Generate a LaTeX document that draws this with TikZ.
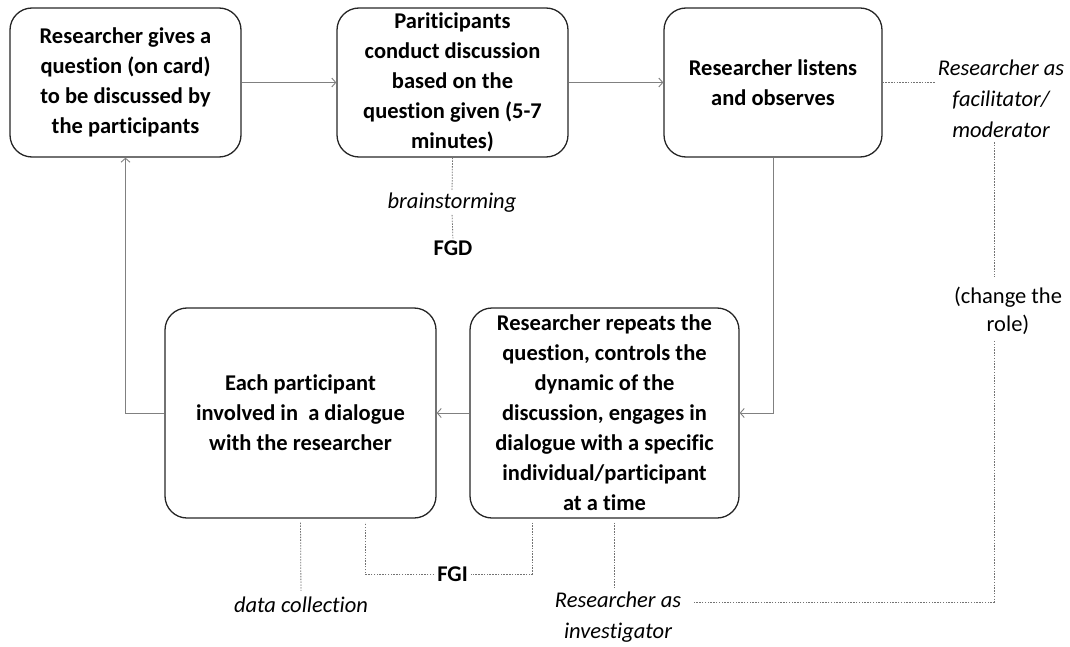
\documentclass[tikz,border=0pt]{standalone}
\usepackage{fontspec}
\setmainfont{Carlito}[Ligatures={NoCommon}]
\usetikzlibrary{arrows.meta,calc}
\begin{document}
\begin{tikzpicture}[x=1pt,y=-1pt,
  box/.style={draw=black!85, line width=1.3pt, rounded corners=22pt, align=center,
    font=\bfseries\fontsize{22.5}{30}\selectfont, inner sep=0pt},
  flow/.style={draw=black!50, line width=0.9pt, -{Straight Barb[length=4pt,width=9pt]}},
  dotline/.style={draw=black!55, line width=0.8pt, dash pattern=on 1.5pt off 1.3pt},
  note/.style={font=\itshape\fontsize{22.5}{31}\selectfont, align=center, inner sep=0pt},
  plain/.style={font=\fontsize{22.5}{28}\selectfont, align=center, inner sep=0pt},
  tag/.style={font=\bfseries\fontsize{22.5}{30}\selectfont, inner sep=0pt},
]
\useasboundingbox (0,0) rectangle (1070,647);

% boxes
\node[box, minimum width=231pt, minimum height=149pt] (b1) at (125.5,82.5)
  {Researcher gives a\\question (on card)\\to be discussed by\\the participants};
\node[box, minimum width=231pt, minimum height=149pt] (b2) at (452.5,82.5)
  {Pariticipants\\conduct discussion\\based on the\\question given (5-7\\minutes)};
\node[box, minimum width=218pt, minimum height=149pt] (b3) at (773,82.5)
  {Researcher listens\\and observes};
\node[box, minimum width=269pt, minimum height=210pt] (b4) at (604.5,413)
  {Researcher repeats the\\question, controls the\\dynamic of the\\discussion, engages in\\dialogue with a specific\\individual/participant\\at a time};
\node[box, minimum width=271pt, minimum height=210pt] (b5) at (300.5,413)
  {Each participant\\involved in\ \ a dialogue\\with the researcher};

% annotations
\node[note] (brain) at (452,203) {brainstorming};
\node[tag] (fgd) at (453,248) {FGD};
\node[note] (rf) at (1001,99) {Researcher as\\facilitator/\\moderator};
\node[plain] (change) at (1008,311) {(change the\\role)};
\node[note] (inv) at (618,617.5) {Researcher as\\investigator};
\node[note] (dc) at (301,605) {data collection};
\node[tag] (fgi) at (452.5,574) {FGI};

\coordinate (rolex) at (994,0);
\coordinate (fgix) at (532,0);
\coordinate (fgilx) at (365,0);
\coordinate (invx) at (614,0);
\coordinate (invrow) at (0,602);

% flow connectors
\draw[flow] (b1.east) -- (b2.west);
\draw[flow] (b2.east) -- (b3.west);
\draw[flow] (b3.south) |- (b4.east);
\draw[flow] (b4.west) -- (b5.east);
\draw[flow] (b5.west) -| (b1.south);

% dotted connectors
\draw[dotline, shorten >=2pt] (b2.south) -- (brain.north);
\draw[dotline, shorten <=2pt, shorten >=2pt] (brain.south) -- (fgd.north);
\draw[dotline, shorten >=2pt] (b3.east) -- (b3.east -| rf.west);
\draw[dotline, shorten <=4pt, shorten >=10pt] (rf.south -| rolex) -- (change.north -| rolex);
\draw[dotline, shorten <=6pt, shorten >=12pt] (change.south -| rolex) |- (inv.east |- invrow);
\draw[dotline, shorten <=4pt, shorten >=3pt] (b4.south -| fgix) |- (fgi.east);
\draw[dotline, shorten <=3pt, shorten >=4pt] (fgi.west) -| (b5.south -| fgilx);
\draw[dotline, shorten <=4pt, shorten >=4pt] (b4.south -| invx) -- (inv.north -| invx);
\draw[dotline, shorten <=4pt, shorten >=6pt] (b5.south) -- (dc.north);
\end{tikzpicture}
\end{document}
